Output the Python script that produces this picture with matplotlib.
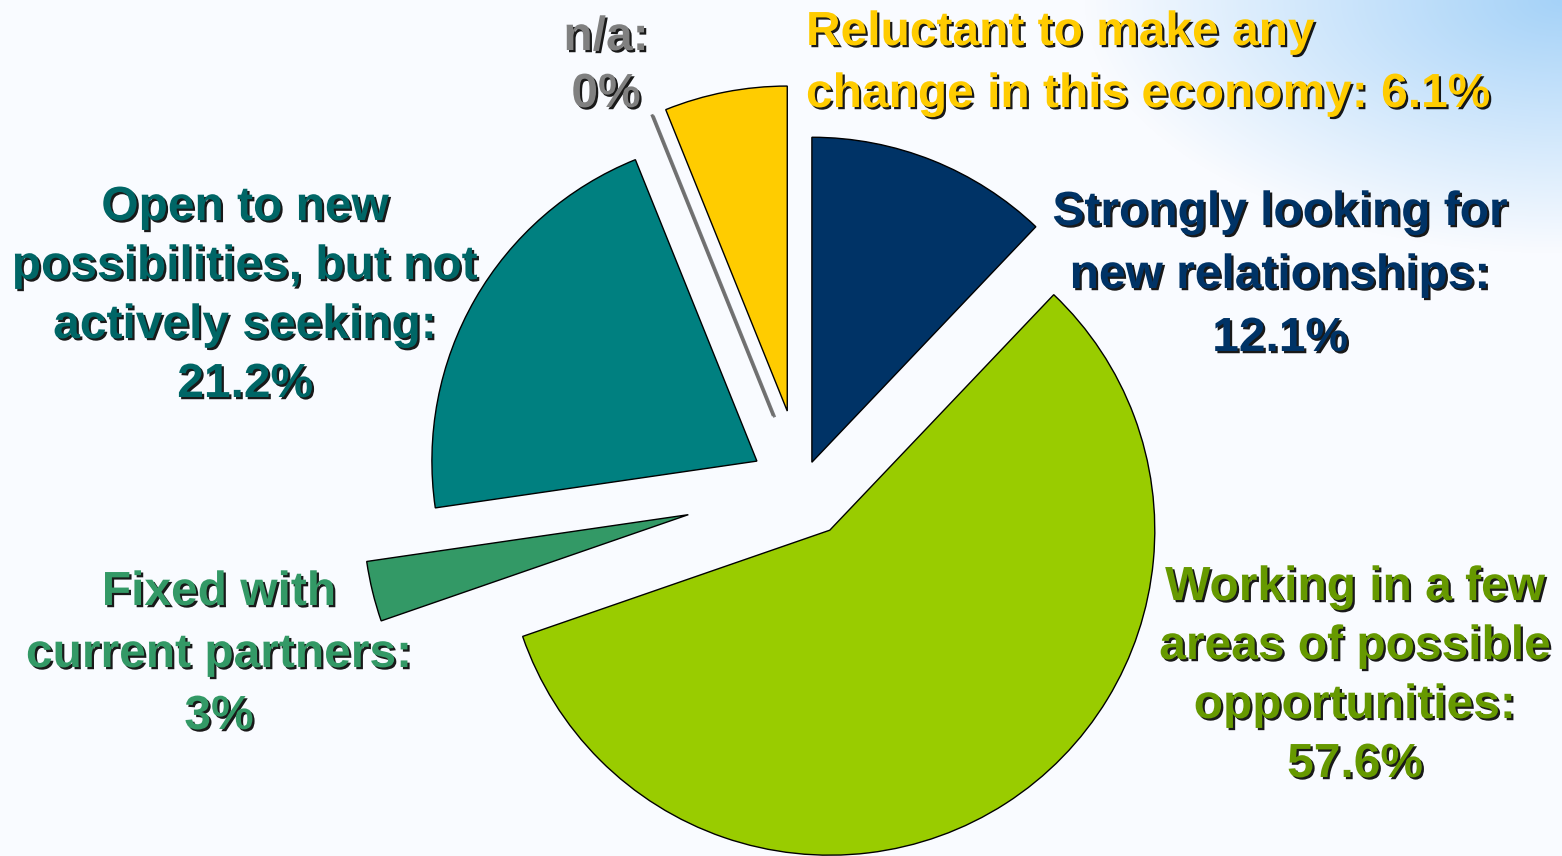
import numpy as np
import matplotlib
matplotlib.use("Agg")
import matplotlib.pyplot as plt
import matplotlib.patheffects as pe

# ---- data ----
categories = [
    "Strongly looking for\nnew relationships:",
    "Working in a few\nareas of possible\nopportunities:",
    "Fixed with\ncurrent partners:",
    "Open to new\npossibilities, but not\nactively seeking:",
    "n/a:",
    "Reluctant to make any\nchange in this economy:",
]
values = [12.1, 57.6, 3.0, 21.2, 0.0, 6.1]
pct_on_new_line = [True, True, True, True, True, False]
slice_colors = ["#003366", "#99CC00", "#339966", "#008080", "#808080", "#FFCC00"]
text_colors = ["#003366", "#669900", "#339966", "#006666", "#808080", "#FFCC00"]

# ---- layout (pixels, from top-left) ----
W, H = 1562, 856
explode_frac = [0.082, 0.158, 0.36, 0.16, 0.236, 0.238]
pie_center_px = (802, 487)
pie_radius_px = 325
# (x, first baseline, line step, ha)
label_layout = [
    (1280, 225, 63, "center"),
    (1355, 600, 59, "center"),
    (219, 605, 62, "center"),
    (245, 220, 59, "center"),
    (606, 50, 57, "center"),
    (806, 45, 62, "left"),
]

fig = plt.figure(figsize=(W / 100, H / 100), dpi=100)
ax = fig.add_axes([0, 0, 1, 1])

# background gradient
yy, xx = np.mgrid[0:H, 0:W]
d = np.hypot((xx - W) * 0.9, yy * 1.7)
w = np.clip(1 - d / 430.0, 0, 1) ** 1.0
base = np.array([249, 251, 255]) / 255.0
blue = np.array([165, 210, 248]) / 255.0
img = base[None, None, :] * (1 - w[..., None]) + blue[None, None, :] * w[..., None]
ax.imshow(img, extent=(0, W, 0, H), origin="upper", zorder=0, aspect="auto")

wedges, _ = ax.pie(
    values,
    explode=[e * pie_radius_px for e in explode_frac],
    colors=slice_colors,
    startangle=90,
    counterclock=False,
    radius=pie_radius_px,
    center=(pie_center_px[0], H - pie_center_px[1]),
    wedgeprops=dict(edgecolor="black", linewidth=1.0),
    normalize=True,
)
for wdg, v in zip(wedges, values):
    wdg.set_zorder(2)
    if v == 0:
        wdg.set_edgecolor("#707070")
        wdg.set_linewidth(2.2)
        wdg.set_path_effects([pe.SimpleLineShadow(offset=(1, -1), alpha=0.5), pe.Normal()])

ax.set_xlim(0, W)
ax.set_ylim(0, H)
ax.set_aspect("equal")
ax.axis("off")

shadow = [pe.SimplePatchShadow(offset=(1.6, -1.6), shadow_rgbFace="black", alpha=0.9), pe.Normal()]

for name, v, newline, col, (x, y0, step, ha) in zip(
    categories, values, pct_on_new_line, text_colors, label_layout
):
    pct = f"{v:g}%"
    text = name + ("\n" if newline else " ") + pct
    for i, line in enumerate(text.split("\n")):
        ax.text(
            x, H - (y0 + i * step), line,
            ha=ha, va="baseline", color=col,
            fontsize=34.5, fontweight="bold", family="Liberation Sans",
            path_effects=shadow, zorder=5,
        )

fig.savefig("out.png", dpi=100)
